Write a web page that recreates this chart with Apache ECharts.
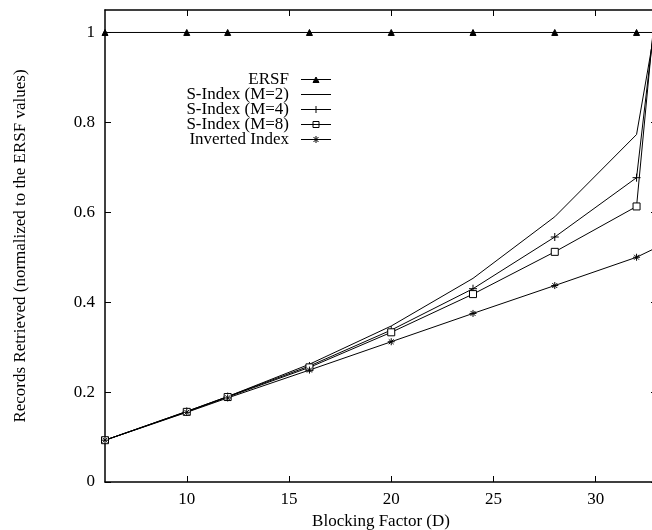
<!DOCTYPE html>
<html>
<head>
<meta charset="utf-8">
<script src="https://cdn.jsdelivr.net/npm/echarts@6/dist/echarts.min.js"></script>
<style>
  html, body { margin: 0; padding: 0; background: #fff; }
  #main { width: 652px; height: 530px; }
</style>
</head>
<body>
<div id="main"></div>
<script>
// blocking factor D
let blockSizes = [6, 10, 12, 16, 20, 24, 28, 32, 36];
// records retrieved, normalized to ERSF
let ersf = [1, 1, 1, 1, 1, 1, 1, 1, 1];
let sIndexM2 = [0.093, 0.157, 0.190, 0.262, 0.347, 0.453, 0.590, 0.773, 1.82];
let sIndexM4 = [0.093, 0.157, 0.190, 0.258, 0.338, 0.430, 0.545, 0.677, 2.25];
let sIndexM8 = [0.093, 0.156, 0.189, 0.255, 0.333, 0.418, 0.512, 0.613, 2.54];
let invIndex = [0.093, 0.155, 0.187, 0.249, 0.312, 0.375, 0.437, 0.500, 0.588];
let xTicks = [10, 15, 20, 25, 30];
let yTicks = [0, 0.2, 0.4, 0.6, 0.8, 1];
let names = ['ERSF', 'S-Index (M=2)', 'S-Index (M=4)', 'S-Index (M=8)', 'Inverted Index'];

const FONT = 'Liberation Serif';
const plusPath = 'path://M0,5L10,5M5,0L5,10';
const starPath = 'path://M0,5L10,5M5,0L5,10M1.5,1.5L8.5,8.5M8.5,1.5L1.5,8.5';

// legend samples: 30x8 box, line through the middle plus the point
const keyBox = 'M0,0M30,8';
const keyLine = 'M0,4L30,4';
let keyIcons = [
    'path://' + keyBox + keyLine + 'M12,7L15,1.5L18,7Z',
    'path://' + keyBox + keyLine,
    'path://' + keyBox + keyLine + 'M15,0.5L15,7.5',
    'path://' + keyBox + keyLine + 'M12,1L18,1L18,7L12,7Z',
    'path://' + keyBox + keyLine + 'M15,0.5L15,7.5M12.5,1.5L17.5,6.5M17.5,1.5L12.5,6.5'
];
let keyFills = ['#000', '#000', '#000', '#fff', '#000'];

function pairs(ys) {
    return blockSizes.map((x, i) => [x, ys[i]]);
}

function makeSeries(name, ys, symbol, size, fill) {
    return {
        name: name,
        type: 'line',
        data: pairs(ys),
        symbol: symbol,
        symbolSize: size,
        showSymbol: symbol !== 'none',
        clip: true,
        lineStyle: { color: '#000', width: 1 },
        itemStyle: { color: fill, borderColor: '#000', borderWidth: 1 },
        emphasis: { disabled: true }
    };
}

let myChart = echarts.init(document.getElementById('main'), null, { renderer: 'canvas' });

let axisCommon = {
    type: 'value',
    axisLine: { show: true, onZero: false, lineStyle: { color: '#000', width: 1.5 } },
    splitLine: { show: false }
};
let tickStyle = { color: '#000', width: 1 };

let option = {
    animation: false,
    backgroundColor: '#fff',
    textStyle: { fontFamily: FONT, color: '#000' },
    // the right border sits just past the picture's edge
    grid: { left: 105, width: 552, top: 10, height: 472, containLabel: false, outerBoundsMode: 'none' },
    legend: {
        orient: 'vertical',
        left: 178,
        top: 71,
        padding: 0,
        align: 'right',
        itemWidth: 30,
        itemHeight: 8,
        itemGap: -2,
        selectedMode: false,
        data: names.map((n, i) => ({
            name: n,
            icon: keyIcons[i],
            itemStyle: { color: keyFills[i], borderColor: '#000', borderWidth: 1 }
        })),
        formatter: function (name) { return '{a|' + name + '}{b|}'; },
        textStyle: {
            fontFamily: FONT,
            fontSize: 17,
            color: '#000',
            lineHeight: 15,
            rich: {
                a: { width: 111, align: 'right', fontFamily: FONT, fontSize: 17, lineHeight: 15, color: '#000' },
                b: { width: 7 }
            }
        }
    },
    xAxis: [
        Object.assign({}, axisCommon, {
            min: 6, max: 33,
            position: 'bottom',
            name: 'Blocking Factor (D)',
            nameLocation: 'middle',
            nameGap: 31,
            nameTextStyle: { fontFamily: FONT, fontSize: 17, color: '#000' },
            axisTick: { inside: true, length: 6, customValues: xTicks, lineStyle: tickStyle },
            axisLabel: { customValues: xTicks, fontFamily: FONT, fontSize: 17, color: '#000', margin: 9 }
        }),
        Object.assign({}, axisCommon, {
            min: 6, max: 33,
            position: 'top',
            axisTick: { inside: true, length: 6, customValues: xTicks, lineStyle: tickStyle },
            axisLabel: { show: false }
        })
    ],
    yAxis: [
        Object.assign({}, axisCommon, {
            min: 0, max: 1.05,
            position: 'left',
            name: 'Records Retrieved (normalized to the ERSF values)',
            nameLocation: 'middle',
            nameGap: 76,
            nameTextStyle: { fontFamily: FONT, fontSize: 17, color: '#000' },
            axisTick: { inside: true, length: 6, customValues: yTicks, lineStyle: tickStyle },
            axisLabel: { customValues: yTicks, fontFamily: FONT, fontSize: 17, color: '#000', margin: 10 }
        }),
        Object.assign({}, axisCommon, {
            min: 0, max: 1.05,
            position: 'right',
            axisTick: { inside: true, length: 6, customValues: yTicks, lineStyle: tickStyle },
            axisLabel: { show: false }
        })
    ],
    series: [
        makeSeries(names[0], ersf, 'triangle', 6, '#000'),
        makeSeries(names[1], sIndexM2, 'none', 0, '#000'),
        makeSeries(names[2], sIndexM4, plusPath, 8, '#000'),
        makeSeries(names[3], sIndexM8, 'rect', 7, '#fff'),
        makeSeries(names[4], invIndex, starPath, 7, '#000')
    ]
};

myChart.setOption(option);
</script>
</body>
</html>
